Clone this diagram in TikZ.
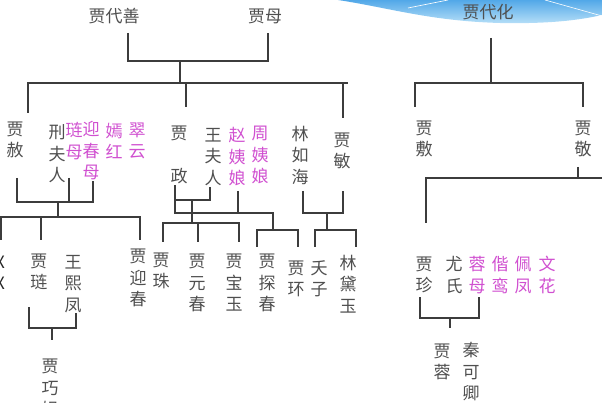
\documentclass[tikz,border=0pt]{standalone}
\usepackage{fontspec}
\newfontfamily\cjk{Noto Sans CJK SC}
\definecolor{tg}{HTML}{4F4F4F}
\definecolor{pk}{HTML}{D050D0}
\definecolor{lnc}{HTML}{3C3C3C}
\definecolor{wavetop}{HTML}{52A8E8}
\definecolor{wavebot}{HTML}{B8E0F8}
\begin{document}
\begin{tikzpicture}[x=1pt,y=-1pt,
  txt/.style={font=\cjk\fontsize{17}{21.5}\selectfont, text=tg, align=center, inner sep=0pt},
  pink/.style={txt, text=pk},
  conn/.style={draw=lnc, line width=1.3pt}]
\useasboundingbox (0,0) rectangle (602,403);
% decorative wave
\shade[top color=wavetop, bottom color=wavebot]
  (338,0) .. controls (390,8) and (430,21) .. (500,23)
  .. controls (550,24) and (580,20) .. (602,15) -- (602,0) -- cycle;
\draw[white, line width=0.6pt] (408,8) -- (448,0);
\draw[white, line width=0.6pt] (545,0) -- (602,16);

% ---- top generation
\node[txt] (daishan) at (114,16) {贾代善};
\node[txt] (jiamu) at (265,16) {贾母};
\node[txt] (daihua) at (488,12) {贾代化};

% ---- second generation
\node[txt] (jiashe) at (15,140) {贾\\赦};
\node[txt] (xing) at (57,154) {刑\\夫\\人};
\node[pink] (lianmu) at (74,141) {琏\\母};
\node[pink] (ycmu) at (91,151) {迎\\春\\母};
\node[pink] (yanhong) at (114,141) {嫣\\红};
\node[pink] (cuiyun) at (137,141) {翠\\云};
\node[txt] (jiazheng) at (179,155) {贾\\[21pt]政};
\node[txt] (wang) at (213,157) {王\\夫\\人};
\node[pink] (zhao) at (237,157) {赵\\姨\\娘};
\node[pink] (zhou) at (260,155) {周\\姨\\娘};
\node[txt] (linrh) at (300,155) {林\\如\\海};
\node[txt] (jiamin) at (342,151) {贾\\敏};
\node[txt] (jiafu) at (424,139) {贾\\敷};
\node[txt] (jiajing) at (583,139) {贾\\敬};

% ---- third generation
\node[txt, text=black!85] (cut) at (0,273) {X\\X};
\node[txt] (jialian) at (39,272) {贾\\琏};
\node[txt] (xifeng) at (73,284) {王\\熙\\凤};
\node[txt] (yingchun) at (138,278) {贾\\迎\\春};
\node[txt] (jiazhu) at (161,271) {贾\\珠};
\node[txt] (yuanchun) at (197,283) {贾\\元\\春};
\node[txt] (baoyu) at (234,283) {贾\\宝\\玉};
\node[txt] (tanchun) at (267,283) {贾\\探\\春};
\node[txt] (jiahuan) at (296,279) {贾\\环};
\node[txt] (yaozi) at (319,279) {夭\\子};
\node[txt] (daiyu) at (348,284) {林\\黛\\玉};
\node[txt] (jiazhen) at (424,275) {贾\\珍};
\node[txt] (youshi) at (454,275) {尤\\氏};
\node[pink] (rongmu) at (477,275) {蓉\\母};
\node[pink] (xieluan) at (500,275) {偕\\鸾};
\node[pink] (peifeng) at (523,275) {佩\\凤};
\node[pink] (wenhua) at (547,275) {文\\花};

% ---- fourth generation
\node[txt] (qiaojie) at (50,388) {贾\\巧\\姐};
\node[txt] (jiarong) at (442,362) {贾\\蓉};
\node[txt] (qinkq) at (471,372) {秦\\可\\卿};

% ---- connectors: top left
\coordinate (dsb) at (128,33);
\coordinate (jmb) at (268,33);
\coordinate (m1) at (180,61);
\coordinate (m1b) at (180,83);
\draw[conn] (dsb) |- (m1) -| (jmb);
\draw[conn] (m1) -- (m1b);
\coordinate (jsT) at (28,113);
\coordinate (jzT) at (186,107);
\coordinate (jmT) at (343,118);
\coordinate (r2e) at (348,83);
\draw[conn] (jsT) |- (r2e);
\draw[conn] (jzT) -- (jzT |- m1b);
\draw[conn] (jmT) -- (jmT |- m1b);

% 贾赦 family
\coordinate (s1) at (17,178);
\coordinate (s2) at (69,178);
\coordinate (s3) at (93,181);
\coordinate (sj) at (58,202);
\coordinate (sj2) at (58,217);
\draw[conn] (s1) |- (sj) -| (s3);
\draw[conn] (s2) -- (s2 |- sj);
\draw[conn] (sj) -- (sj2);
\coordinate (k0) at (1,240);
\coordinate (k1) at (41,240);
\coordinate (k2) at (140,240);
\draw[conn] (k0) |- (sj2) -| (k2);
\draw[conn] (k1) -- (k1 |- sj2);

% 贾琏 + 王熙凤
\coordinate (l1) at (29,307);
\coordinate (l2) at (76,313);
\coordinate (lj) at (52,328);
\coordinate (lj2) at (52,340);
\draw[conn] (l1) |- (lj) -| (l2);
\draw[conn] (lj) -- (lj2);

% 贾政 family
\coordinate (z1) at (175,185);
\coordinate (w1) at (210,187);
\coordinate (zw) at (192,200);
\coordinate (zw2) at (192,223);
\coordinate (zh) at (238,191);
\coordinate (zj) at (273,213);
\coordinate (zj2) at (273,230);
\draw[conn] (z1) |- (zj) -- (zj2);
\draw[conn] (w1) |- (z1 |- zw);
\draw[conn] (zw) -- (zw2);
\draw[conn] (zh) -- (zh |- zj);
\coordinate (c1) at (163,242);
\coordinate (c2) at (198,242);
\coordinate (c3) at (239,242);
\draw[conn] (c1) |- (zw2) -| (c3);
\draw[conn] (c2) -- (c2 |- zw2);
\coordinate (t1) at (257,247);
\coordinate (t2) at (298,247);
\draw[conn] (t1) |- (zj2) -| (t2);

% 林如海 + 贾敏
\coordinate (lh) at (303,191);
\coordinate (jm2) at (343,191);
\coordinate (lj3) at (327,213);
\coordinate (lj4) at (327,230);
\coordinate (y1) at (315,247);
\coordinate (y2) at (356,247);
\draw[conn] (lh) |- (lj3) -| (jm2);
\draw[conn] (lj3) -- (lj4);
\draw[conn] (y1) |- (lj4) -| (y2);

% 贾代化 family
\coordinate (dh) at (491,38);
\coordinate (dh2) at (491,83);
\coordinate (fT) at (415,107);
\coordinate (jgT) at (583,107);
\draw[conn] (dh) -- (dh2);
\draw[conn] (fT) |- (dh2) -| (jgT);
\coordinate (jgB) at (578,167);
\coordinate (jgJ) at (578,178);
\coordinate (redge) at (604,178);
\coordinate (zT) at (426,223);
\draw[conn] (jgB) -- (jgJ);
\draw[conn] (zT) |- (redge);
\coordinate (p1) at (420,297);
\coordinate (p2) at (479,297);
\coordinate (pj) at (450,318);
\coordinate (pj2) at (450,328);
\draw[conn] (p1) |- (pj) -| (p2);
\draw[conn] (pj) -- (pj2);
\end{tikzpicture}
\end{document}
